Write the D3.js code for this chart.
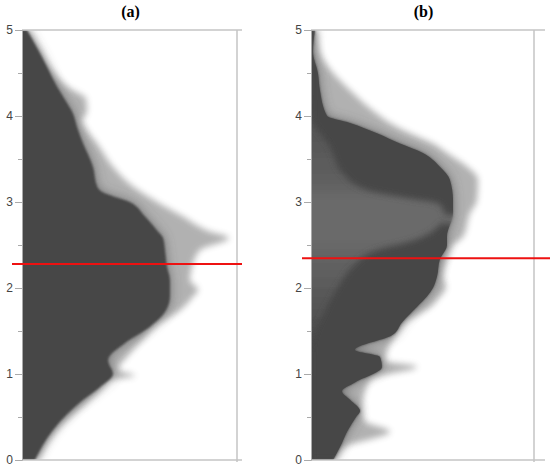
<!DOCTYPE html>
<html>
<head>
<meta charset="utf-8">
<script src="https://cdn.jsdelivr.net/npm/d3@7"></script>
<style>
body { margin: 0; background: #fff; }
.tick text { font-family: "Liberation Sans", Arial, sans-serif; font-size: 12px; fill: #444; }
</style>
</head>
<body>
<div class="canvas"></div>
<script>
/*global d3 */

const titles = ['(a)', '(b)'];
const yTicks = [0, 1, 2, 3, 4, 5];
const yMinor = [0.5, 1.5, 2.5, 3.5, 4.5];
const refValues = [2.28, 2.345];

// [value, density] pairs (density on a 0-100 scale)
const coreA = [[0, 6], [0.35, 14.4], [0.7, 28.4], [0.85, 36.3], [1.0, 42.3], [1.16, 40], [1.36, 47.9],
	[1.55, 59.5], [1.74, 67], [1.9, 68.8], [2.09, 68.8], [2.25, 67.4], [2.44, 66.5], [2.58, 65.6],
	[2.67, 62.8], [2.83, 57.2], [3.0, 50], [3.12, 37], [3.18, 34.9], [3.41, 33], [3.68, 28.4],
	[3.87, 25.6], [4.03, 23.7], [4.19, 20], [4.34, 16.3], [4.57, 11.6], [4.77, 7.4], [5, 2.3]];
const outerA = [[0, 7.4], [0.35, 16.3], [0.7, 31.6], [0.85, 37.7], [0.93, 40.9], [0.98, 52.6], [1.05, 44.7],
	[1.2, 48.8], [1.4, 56.3], [1.55, 61.9], [1.74, 73.5], [1.9, 79.5], [1.98, 81.9], [2.09, 78.1],
	[2.25, 79.1], [2.44, 82.8], [2.58, 96.3], [2.67, 86], [2.83, 74.9], [3.0, 62.8], [3.18, 51.6],
	[3.41, 42.3], [3.68, 34.9], [3.87, 29.3], [3.95, 27.9], [4.05, 30.2], [4.2, 29.8], [4.32, 22.3],
	[4.57, 13], [4.77, 8.4], [5, 2.8]];

const coreB = [[0, 9.9], [0.15, 13], [0.35, 16.6], [0.5, 20.2], [0.57, 22], [0.7, 17.5], [0.8, 13.9],
	[0.9, 19.7], [1.08, 31.8], [1.2, 30.9], [1.28, 19.7], [1.45, 36.3], [1.6, 40.8], [1.78, 47.5],
	[1.9, 52], [2.0, 54.7], [2.13, 56.5], [2.33, 57.8], [2.5, 61], [2.6, 61], [2.87, 63.7], [3.02, 63.7],
	[3.26, 62.3], [3.41, 57.8], [3.57, 50.2], [3.68, 39.9], [3.8, 29.6], [3.92, 17.5], [4.0, 7.2],
	[4.3, 4], [4.5, 3.1], [4.75, 0.9], [5, 1.8]];
const outerB = [[0, 11.2], [0.15, 15.2], [0.33, 35.4], [0.45, 24.2], [0.6, 22.9], [0.8, 24.2], [0.95, 27.4],
	[1.085, 47.5], [1.15, 33.2], [1.3, 34.5], [1.45, 38.1], [1.6, 42.2], [1.78, 53.4], [1.9, 57.8],
	[2.015, 60.5], [2.13, 59.2], [2.33, 61], [2.5, 63.7], [2.6, 68.2], [2.87, 71.3], [3.02, 74.4],
	[3.26, 74.9], [3.41, 70], [3.57, 61], [3.68, 54.7], [3.8, 44.4], [3.92, 35.4], [4.0, 30.9],
	[4.3, 17.5], [4.5, 9.9], [4.75, 4], [5, 2.7]];
// darker lobes inside (b): [value, left edge]
const lowLobeB = [[0, 0], [1.2, 0], [1.4, 0.9], [1.78, 7.2], [2.05, 13], [2.25, 18.8], [2.44, 29.6],
	[2.54, 44.4], [2.62, 52], [2.75, 58]];
const upLobeB = [[2.85, 60], [2.97, 57.8], [3.06, 39.9], [3.14, 25.1], [3.33, 14.3], [3.64, 8.5],
	[3.99, 0.4], [5, 0]];

const width = 550, height = 468;
const svg = d3.select('.canvas').append('svg')
	.attr('width', width)
	.attr('height', height);

const defs = svg.append('defs');
[['blur1', 1.2], ['blur3', 3], ['blur5', 6]].forEach(([id, s]) => {
	defs.append('filter').attr('id', id)
		.attr('x', '-30%').attr('y', '-10%').attr('width', '160%').attr('height', '120%')
		.append('feGaussianBlur').attr('stdDeviation', s);
});

const y = d3.scaleLinear().domain([0, 5]).range([460, 30]);

const panels = [
	{left: 22, right: 237, frameEnd: 242, core: coreA, outer: outerA, refStart: 12, refEnd: 242},
	{left: 311, right: 534, frameEnd: 545, core: coreB, outer: outerB, refStart: 302, refEnd: 550,
		lobes: [lowLobeB, upLobeB]}
];

// base fill for (b) varies with height
const grad = defs.append('linearGradient').attr('id', 'gradB')
	.attr('gradientUnits', 'userSpaceOnUse')
	.attr('x1', 0).attr('x2', 0).attr('y1', y(0)).attr('y2', y(5));
[[0, '#474747'], [0.26, '#484848'], [0.36, '#555555'], [0.46, '#626262'], [0.52, '#6b6b6b'],
	[0.6, '#6b6b6b'], [0.66, '#5e5e5e'], [0.76, '#565656'], [0.82, '#4a4a4a'], [1, '#474747']]
	.forEach(([o, c]) => grad.append('stop').attr('offset', o).attr('stop-color', c));

panels.forEach((p, i) => {
	const x = d3.scaleLinear().domain([0, 100]).range([p.left, p.right]);
	const g = svg.append('g');

	defs.append('clipPath').attr('id', 'plot' + i)
		.append('rect')
		.attr('x', p.left).attr('y', y(5))
		.attr('width', p.right - p.left).attr('height', y(0) - y(5));

	const area = d3.area()
		.curve(d3.curveMonotoneY)
		.y(d => y(d[0]))
		.x0(x(-5))
		.x1(d => x(d[1]));

	const plot = g.append('g').attr('clip-path', `url(#plot${i})`);

	plot.append('path')
		.attr('d', area(p.outer))
		.attr('fill', '#474747')
		.attr('opacity', 0.42)
		.attr('filter', 'url(#blur3)');

	plot.append('path')
		.attr('d', area(p.core))
		.attr('fill', '#474747')
		.attr('opacity', 0.6)
		.attr('filter', 'url(#blur5)');

	plot.append('path')
		.attr('d', area(p.core))
		.attr('fill', i === 1 ? 'url(#gradB)' : '#474747')
		.attr('filter', 'url(#blur1)');

	if (p.lobes) {
		defs.append('clipPath').attr('id', 'core' + i)
			.append('path').attr('d', area(p.core));
		const lobeArea = d3.area()
			.curve(d3.curveMonotoneY)
			.y(d => y(d[0]))
			.x0(d => x(d[1]))
			.x1(x(110));
		const lobes = plot.append('g').attr('clip-path', `url(#core${i})`);
		lobes.selectAll('path')
			.data(p.lobes)
			.enter()
			.append('path')
			.attr('d', lobeArea)
			.attr('fill', '#474747')
			.attr('filter', 'url(#blur3)');
	}

	// frame
	g.append('line')
		.attr('x1', p.left).attr('x2', p.frameEnd)
		.attr('y1', y(5)).attr('y2', y(5))
		.attr('stroke', '#c4c4c4').attr('stroke-width', 1.5);
	g.append('line')
		.attr('x1', p.left).attr('x2', p.frameEnd)
		.attr('y1', y(0)).attr('y2', y(0))
		.attr('stroke', '#c4c4c4').attr('stroke-width', 1.5);
	g.append('line')
		.attr('x1', p.right).attr('x2', p.right)
		.attr('y1', y(5)).attr('y2', y(0) + 2)
		.attr('stroke', '#c4c4c4').attr('stroke-width', 1.5);

	// axes
	const yAxis = d3.axisLeft(y).tickValues(yTicks).tickSize(7).tickPadding(2)
		.tickFormat(d3.format('d'));
	const yAxisGroup = g.append('g').attr('transform', `translate(${p.left}, 0)`).call(yAxis);
	yAxisGroup.select('.domain').attr('stroke', '#aaa');
	yAxisGroup.selectAll('.tick line').attr('stroke', '#aaa');

	const minorGroup = g.append('g').attr('transform', `translate(${p.left}, 0)`)
		.call(d3.axisLeft(y).tickValues(yMinor).tickSize(4).tickFormat(''));
	minorGroup.select('.domain').remove();
	minorGroup.selectAll('.tick line').attr('stroke', '#aaa');

	// red reference line
	g.append('line')
		.attr('x1', p.refStart).attr('x2', p.refEnd)
		.attr('y1', y(refValues[i])).attr('y2', y(refValues[i]))
		.attr('stroke', '#ee1111').attr('stroke-width', 2);

	// title
	g.append('text')
		.attr('x', (p.left + p.right) / 2 + 1)
		.attr('y', 17)
		.attr('text-anchor', 'middle')
		.attr('font-family', '"Liberation Serif", "Times New Roman", serif')
		.attr('font-weight', 'bold')
		.attr('font-size', 16)
		.text(titles[i]);
});
</script>
</body>
</html>
